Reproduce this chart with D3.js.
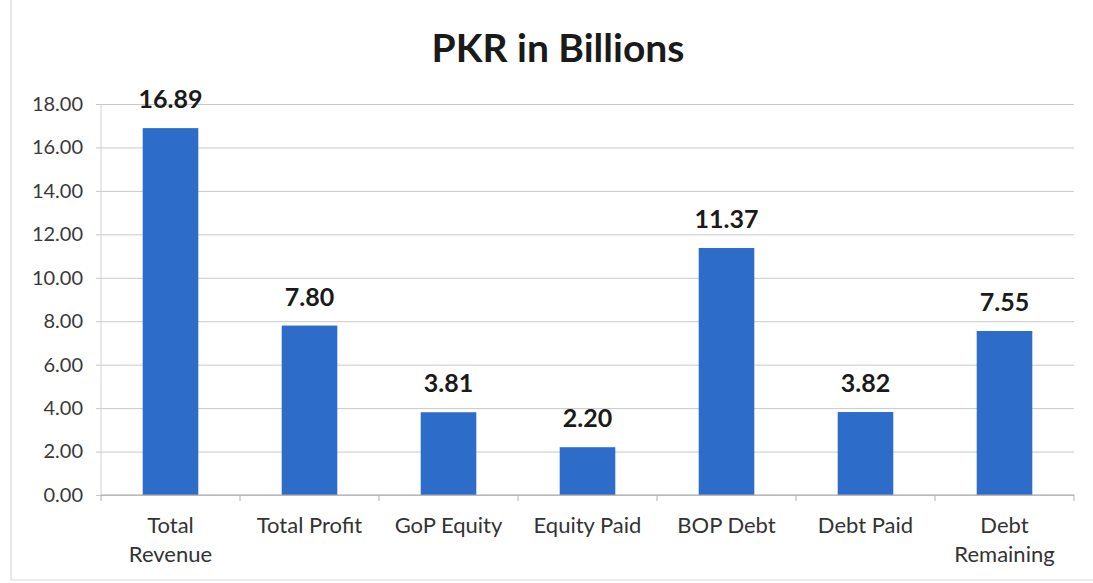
<!DOCTYPE html>
<html>
<head>
<meta charset="utf-8">
<script src="https://cdn.jsdelivr.net/npm/d3@7"></script>
<style>
  html, body { margin: 0; padding: 0; background: #fff; }
  svg { display: block; }
</style>
</head>
<body>
<svg id="chart" width="1093" height="583"></svg>
<script>
const categories = [["Total", "Revenue"], ["Total Profit"], ["GoP Equity"], ["Equity Paid"], ["BOP Debt"], ["Debt Paid"], ["Debt", "Remaining"]];
const values = [16.89, 7.80, 3.81, 2.20, 11.37, 3.82, 7.55];
const yTicks = [0, 2, 4, 6, 8, 10, 12, 14, 16, 18];
const title = "PKR in Billions";

const svg = d3.select("#chart");
const W = 1093, H = 583;
const margin = { left: 101, right: 19, top: 104, bottom: 88 };
const font = "Lato, 'Open Sans', sans-serif";

// faint frame of the scanned chart
svg.append("line").attr("x1", 11).attr("x2", 11).attr("y1", 0).attr("y2", 580)
  .attr("stroke", "#e2e2e2").attr("stroke-width", 1.5);
svg.append("line").attr("x1", 11).attr("x2", 1093).attr("y1", 580).attr("y2", 580)
  .attr("stroke", "#e6e6e6").attr("stroke-width", 1.5);

const x = d3.scaleBand()
  .domain(d3.range(categories.length))
  .range([margin.left, W - margin.right])
  .paddingInner(0.6).paddingOuter(0.3);

const y = d3.scaleLinear().domain([0, 18]).range([H - margin.bottom, margin.top]);

// gridlines + y axis
const yAxis = d3.axisLeft(y).tickValues(yTicks).tickFormat(d3.format(".2f"))
  .tickSize(-(W - margin.left - margin.right)).tickPadding(18);
const gy = svg.append("g").attr("transform", `translate(${margin.left},0)`).call(yAxis);
gy.select(".domain").remove();
gy.selectAll(".tick line").attr("stroke", "#c8c8c8").attr("stroke-width", 1).attr("x2", W - margin.left - margin.right).attr("x1", -5);
gy.selectAll(".tick text").attr("font-family", font).attr("font-size", 20).attr("fill", "#3a3a3a");

// vertical axis line
svg.append("line").attr("x1", margin.left).attr("x2", margin.left)
  .attr("y1", y(18)).attr("y2", y(0)).attr("stroke", "#d0d0d0");

// bars
svg.append("g").selectAll("rect").data(values).join("rect")
  .attr("x", (d, i) => x(i))
  .attr("width", x.bandwidth())
  .attr("y", d => y(d))
  .attr("height", d => y(0) - y(d))
  .attr("fill", "#2d6cc8");

// x axis baseline
svg.append("line").attr("x1", margin.left).attr("x2", W - margin.right)
  .attr("y1", y(0)).attr("y2", y(0)).attr("stroke", "#a8a8a8").attr("stroke-width", 1.2);

// category boundary ticks
const bounds = d3.range(categories.length + 1).map(i => margin.left + i * (W - margin.left - margin.right) / categories.length);
svg.append("g").selectAll("line").data(bounds).join("line")
  .attr("x1", d => d).attr("x2", d => d)
  .attr("y1", y(0)).attr("y2", y(0) + 6)
  .attr("stroke", "#b0b0b0");

// category labels
const cl = svg.append("g").selectAll("text").data(categories).join("text")
  .attr("x", (d, i) => x(i) + x.bandwidth() / 2)
  .attr("y", 533)
  .attr("text-anchor", "middle")
  .attr("font-family", font).attr("font-size", 22).attr("fill", "#333");
cl.each(function(d) {
  const t = d3.select(this);
  d.forEach((line, j) => {
    t.append("tspan").attr("x", t.attr("x")).attr("dy", j === 0 ? 0 : 29).text(line);
  });
});

// value labels
svg.append("g").selectAll("text").data(values).join("text")
  .attr("x", (d, i) => x(i) + x.bandwidth() / 2)
  .attr("y", d => y(d) - 20)
  .attr("text-anchor", "middle")
  .attr("font-family", font).attr("font-size", 25).attr("font-weight", "bold").attr("fill", "#1a1a1a")
  .text(d => d3.format(".2f")(d));

// title
svg.append("text").attr("x", 558).attr("y", 62).attr("text-anchor", "middle")
  .attr("font-family", font).attr("font-size", 39).attr("font-weight", "bold").attr("fill", "#1a1a1a")
  .text(title);
</script>
</body>
</html>
